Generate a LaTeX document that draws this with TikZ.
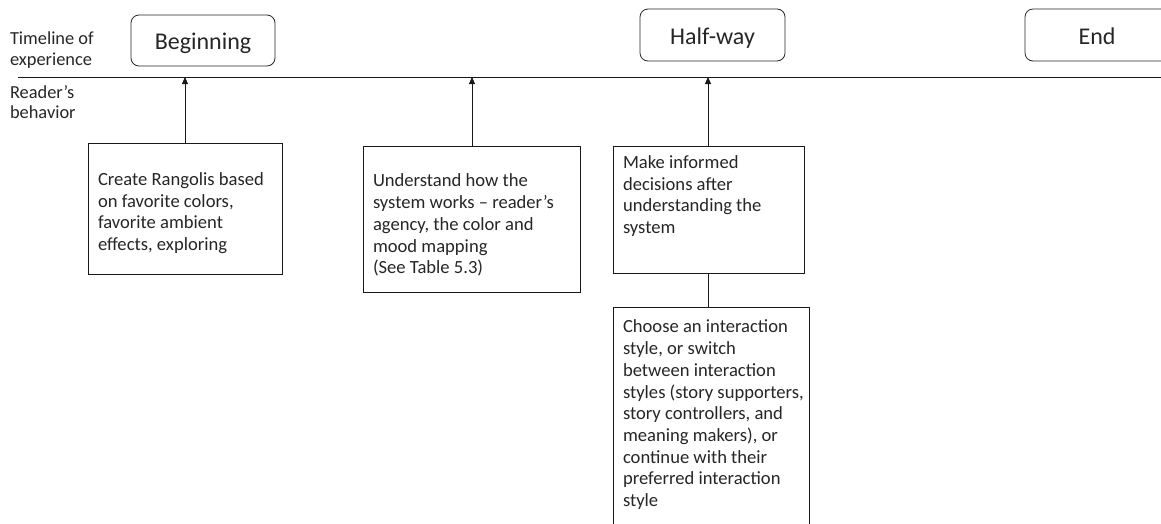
\documentclass[tikz,border=0pt]{standalone}
\usepackage{fontspec}
\setmainfont{Carlito}
\usetikzlibrary{arrows.meta}
\begin{document}
\begin{tikzpicture}[x=1pt,y=-1pt,
  every node/.style={inner sep=0pt, outer sep=0pt},
  stagefont/.style={font=\fontsize{24}{28}\selectfont, text=black!85, text height=18pt, text depth=0pt},
  stage/.style={draw=black!85, line width=0.8pt, rounded corners=8pt, stagefont},
  box/.style={draw=black!90, line width=0.8pt},
  txt/.style={align=left, anchor=north west, font=\fontsize{18.6}{21.7}\selectfont, text=black!85},
  lbl/.style={align=left, anchor=north west, font=\fontsize{18.4}{20.5}\selectfont, text=black!85},
  conn/.style={draw=black!90, line width=0.8pt},
  arr/.style={conn, -{Triangle[length=7pt,width=6pt]}}]
\useasboundingbox (0,0) rectangle (1161,523);
\clip (0,0) rectangle (1161,523);
% timeline
\coordinate (tlL) at (18,77);
\coordinate (tlR) at (1165,77);
\draw[conn] (tlL) -- (tlR);
% labels
\node[lbl] (lt) at (10,32) {Timeline of\\experience};
\node[lbl] (lr) at (10,85.5) {Reader’s\\behavior};
% stages
\node[stage, minimum width=144pt, minimum height=51pt] (beg) at (203,40.5) {Beginning};
\node[stage, minimum width=145pt, minimum height=52pt] (half) at (712.5,35) {Half-way};
\node[stage, minimum width=145pt, minimum height=52pt, anchor=west] (end) at (1025,35) {};
\node[stagefont] (endt) at (1097,35) {End};
% boxes
\node[box, anchor=north west, minimum width=194pt, minimum height=131pt] (b1) at (88,143) {};
\node[txt] (t1) at (98,172.5) {Create Rangolis based\\on favorite colors,\\favorite ambient\\effects, exploring};
\node[box, anchor=north west, minimum width=217pt, minimum height=146pt] (b2) at (363,146) {};
\node[txt] (t2) at (373,174) {Understand how the\\system works – reader’s\\agency, the color and\\mood mapping\\(See Table 5.3)};
\node[box, anchor=north west, minimum width=191pt, minimum height=127pt] (b3) at (613,146) {};
\node[txt] (t3) at (623,155.5) {Make informed\\decisions after\\understanding the\\system};
\node[box, anchor=north west, minimum width=196pt, minimum height=240pt] (b4) at (613,307) {};
\node[txt] (t4) at (623,320) {Choose an interaction\\style, or switch\\between interaction\\styles (story supporters,\\story controllers, and\\meaning makers), or\\continue with their\\preferred interaction\\style};
% arrows
\coordinate (a1) at (185,77);
\coordinate (a2) at (472,77);
\coordinate (a3) at (708,77);
\draw[arr] (b1.north -| a1) -- (a1);
\draw[arr] (b2.north -| a2) -- (a2);
\draw[arr] (b3.north -| a3) -- (a3);
\draw[conn] (b3.south -| a3) -- (b4.north -| a3);
\end{tikzpicture}
\end{document}
